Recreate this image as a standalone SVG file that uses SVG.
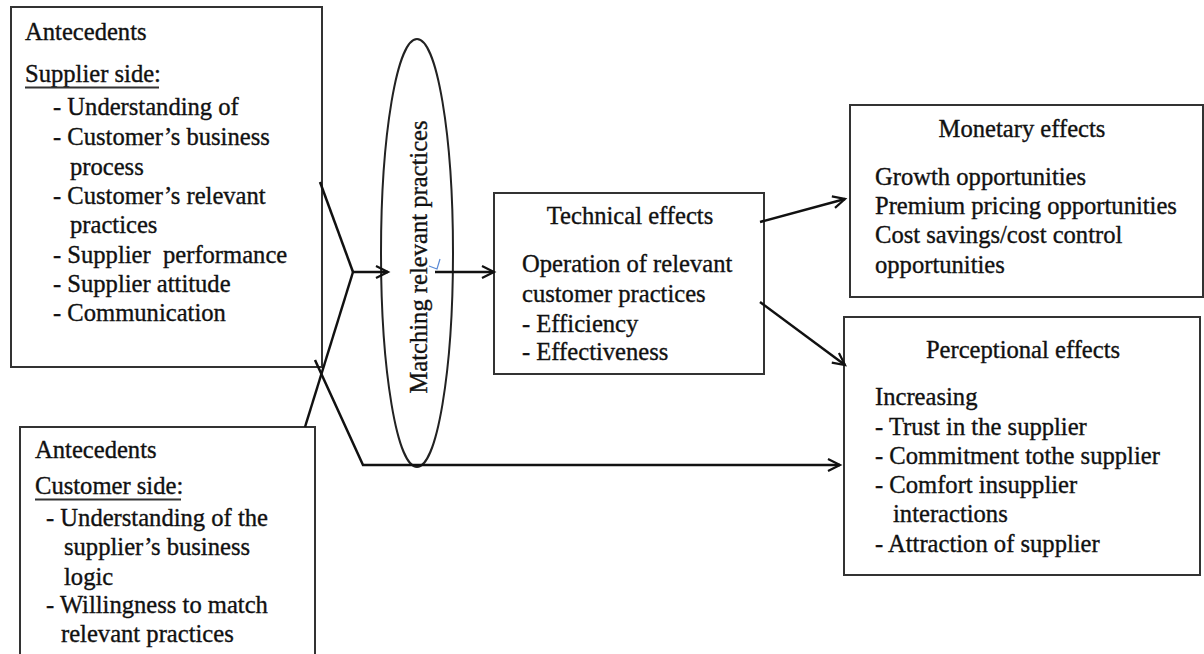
<svg xmlns="http://www.w3.org/2000/svg" width="1204" height="654" viewBox="0 0 1204 654">
<defs>
<marker id="arr" markerUnits="userSpaceOnUse" markerWidth="16" markerHeight="16" refX="13" refY="7" orient="auto">
<path d="M1,1 L13,7 L1,13" fill="none" stroke="#111" stroke-width="2.2"/>
</marker>
<style>
.box{fill:#fff;stroke:#333;stroke-width:2}
.t{font-family:"Liberation Serif","Times New Roman",serif;font-size:24.6px;fill:#111;stroke:#111;stroke-width:0.35}
.c{text-anchor:middle}
.ln{fill:none;stroke:#111;stroke-width:2.5}
.ul{stroke:#333;stroke-width:1.8}
</style>
</defs>
<rect width="1204" height="654" fill="#fff"/>

<g id="supplier-side">
<rect class="box" x="11" y="7" width="311" height="360"/>
<text class="t" x="25" y="40">Antecedents</text>
<text class="t" x="25" y="82">Supplier side:</text>
<line class="ul" x1="25" y1="87.5" x2="159" y2="87.5"/>
<text class="t" x="53" y="115">- Understanding of</text>
<text class="t" x="53" y="145">- Customer’s business</text>
<text class="t" x="70" y="175">process</text>
<text class="t" x="53" y="204">- Customer’s relevant</text>
<text class="t" x="70" y="233">practices</text>
<text class="t" x="53" y="263" xml:space="preserve">- Supplier  performance</text>
<text class="t" x="53" y="292">- Supplier attitude</text>
<text class="t" x="53" y="321">- Communication</text>
</g>

<g id="customer-side">
<rect class="box" x="20" y="427" width="295" height="240"/>
<text class="t" x="35" y="458">Antecedents</text>
<text class="t" x="35" y="494">Customer side:</text>
<line class="ul" x1="35" y1="499.5" x2="181" y2="499.5"/>
<text class="t" x="46" y="526">- Understanding of the</text>
<text class="t" x="64" y="555">supplier’s business</text>
<text class="t" x="64" y="585">logic</text>
<text class="t" x="46" y="613">- Willingness to match</text>
<text class="t" x="61" y="642">relevant practices</text>
</g>

<g id="matching">
<ellipse cx="417" cy="253" rx="36" ry="214" fill="none" stroke="#222" stroke-width="2"/>
<text class="t c" transform="translate(427,257) rotate(-90)">Matching relevant practices</text>
<path d="M429,266 L437,269 L440,259" fill="none" stroke="#5b8bd6" stroke-width="1.2"/>
</g>

<g id="technical">
<rect class="box" x="494" y="193" width="270" height="181"/>
<text class="t c" x="630" y="224">Technical effects</text>
<text class="t" x="522" y="272">Operation of relevant</text>
<text class="t" x="522" y="302">customer practices</text>
<text class="t" x="522" y="332">- Efficiency</text>
<text class="t" x="522" y="360">- Effectiveness</text>
</g>

<g id="monetary">
<rect class="box" x="850" y="105" width="353" height="192"/>
<text class="t c" x="1022" y="137">Monetary effects</text>
<text class="t" x="875" y="185">Growth opportunities</text>
<text class="t" x="875" y="214">Premium pricing opportunities</text>
<text class="t" x="875" y="243">Cost savings/cost control</text>
<text class="t" x="875" y="273">opportunities</text>
</g>

<g id="perceptional">
<rect class="box" x="844" y="317" width="356" height="258"/>
<text class="t c" x="1023" y="358">Perceptional effects</text>
<text class="t" x="875" y="405">Increasing</text>
<text class="t" x="875" y="435">- Trust in the supplier</text>
<text class="t" x="875" y="464">- Commitment tothe supplier</text>
<text class="t" x="875" y="493">- Comfort insupplier</text>
<text class="t" x="893" y="522">interactions</text>
<text class="t" x="875" y="552">- Attraction of supplier</text>
</g>

<g id="connectors">
<polyline class="ln" points="320,182 353,272"/>
<line class="ln" x1="353" y1="272" x2="388" y2="272" marker-end="url(#arr)"/>
<line class="ln" x1="353" y1="272" x2="305" y2="427"/>
<polyline class="ln" points="315,360 363,465 840,465" marker-end="url(#arr)"/>
<line class="ln" x1="435" y1="272" x2="494" y2="272" marker-end="url(#arr)"/>
<line class="ln" x1="760" y1="222" x2="845" y2="199" marker-end="url(#arr)"/>
<line class="ln" x1="760" y1="302" x2="845" y2="365" marker-end="url(#arr)"/>
</g>
</svg>
